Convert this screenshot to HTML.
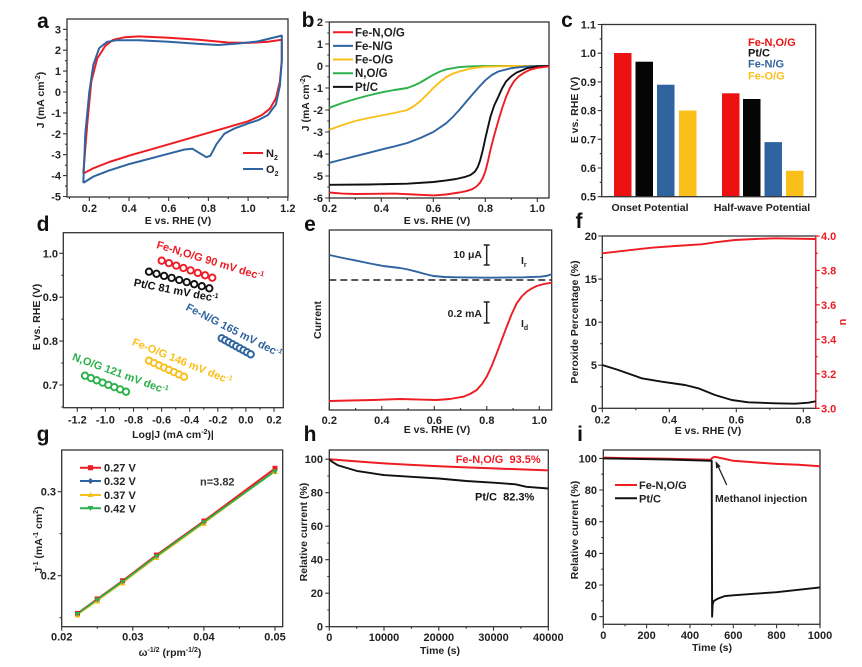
<!DOCTYPE html>
<html><head><meta charset="utf-8"><style>
html,body{margin:0;padding:0;background:#fff;}
svg{display:block;}
</style></head><body>
<svg width="862" height="667" viewBox="0 0 862 667" font-family="'Liberation Sans', Arial, sans-serif" font-weight="bold" fill="#222">
<!-- panel letters -->
<g font-size="21" text-anchor="middle" fill="#111">
<text x="43" y="28">a</text><text x="308" y="27">b</text><text x="567" y="27">c</text>
<text x="43" y="231">d</text><text x="310" y="231">e</text><text x="579" y="228">f</text>
<text x="43" y="441">g</text><text x="310" y="441">h</text><text x="580" y="441">i</text>
</g>

<!-- ================= PANEL A ================= -->
<rect x="67" y="19" width="221" height="178" fill="none" stroke="#333" stroke-width="1.3"/>
<path d="M63 29.3H67M63 50.2H67M63 71.1H67M63 92H67M63 112.9H67M63 133.8H67M63 154.7H67M63 175.6H67M63 196.5H67M65 39.75H67M65 60.65H67M65 81.55H67M65 102.45H67M65 123.35H67M65 144.25H67M65 165.15H67M65 186.05H67M89.3 197V201M129 197V201M168.7 197V201M208.4 197V201M248.1 197V201M287.8 197V201M69.5 197V199M109.2 197V199M148.9 197V199M188.6 197V199M228.3 197V199M268 197V199" stroke="#333" stroke-width="1.1"/>
<g font-size="11" text-anchor="end">
<text x="61" y="33.3">3</text><text x="61" y="54.2">2</text><text x="61" y="75.1">1</text><text x="61" y="96">0</text><text x="61" y="116.9">-1</text><text x="61" y="137.8">-2</text><text x="61" y="158.7">-3</text><text x="61" y="179.6">-4</text><text x="61" y="200.5">-5</text>
</g>
<g font-size="11" text-anchor="middle">
<text x="89.3" y="212">0.2</text><text x="129" y="212">0.4</text><text x="168.7" y="212">0.6</text><text x="208.4" y="212">0.8</text><text x="248.1" y="212">1.0</text><text x="287.8" y="212">1.2</text>
</g>
<text x="178" y="224" font-size="10.5" text-anchor="middle">E vs. RHE (V)</text>
<text transform="translate(44,100) rotate(-90)" font-size="10.5" text-anchor="middle">J (mA cm<tspan dy="-4" font-size="7">-2</tspan><tspan dy="4">)</tspan></text>
<polyline fill="none" stroke="#ee1c24" stroke-width="2" stroke-linejoin="round" points="83.3,173.5 87.3,123.4 91.3,81.5 97.2,58.6 105.2,46 113.1,39.8 125,37.2 138.9,36.4 168.7,37.7 198.5,39.8 228.3,42.5 248.1,42.9 268,41.8 281.8,39.8 281.8,60.7 279.9,81.5 275.9,98.3 269.9,108.7 262,115 248.1,121.3 208.4,132.8 168.7,144.3 129,155.7 109.2,162 93.3,168.3 83.3,173.5"/>
<polyline fill="none" stroke="#2f64a0" stroke-width="2" stroke-linejoin="round" points="83.3,182.9 85.3,133.8 89.3,92 93.3,64.8 99.2,48.1 107.2,41.8 117.1,40.2 138.9,40.2 168.7,41.8 198.5,43.9 218.3,45 238.2,43.5 258,41.4 281.8,35.6 281.8,60.7 279.9,85.7 275.9,104.5 268,115 258,120.2 248.1,123.4 234.2,128.6 224.3,133.8 216.4,144.3 210.4,155.7 206.4,157.2 200.5,153.7 192.5,148.8 184.6,149.5 168.7,153.7 129,164.1 109.2,170.4 93.3,176.6 83.3,182.9"/>
<line x1="243" y1="153" x2="263" y2="153" stroke="#ee1c24" stroke-width="2"/>
<line x1="243" y1="169" x2="263" y2="169" stroke="#2f64a0" stroke-width="2"/>
<text x="266" y="157" font-size="11">N<tspan dy="3" font-size="7">2</tspan></text>
<text x="266" y="173" font-size="11">O<tspan dy="3" font-size="7">2</tspan></text>

<!-- ================= PANEL B ================= -->
<rect x="329.3" y="22" width="219.7" height="176" fill="none" stroke="#333" stroke-width="1.3"/>
<path d="M325.3 22H329.3M325.3 44H329.3M325.3 66H329.3M325.3 88H329.3M325.3 110H329.3M325.3 132H329.3M325.3 154H329.3M325.3 176H329.3M325.3 198H329.3M327.3 33H329.3M327.3 55H329.3M327.3 77H329.3M327.3 99H329.3M327.3 121H329.3M327.3 143H329.3M327.3 165H329.3M327.3 187H329.3M329.3 198V202M381.3 198V202M433.3 198V202M485.3 198V202M537.3 198V202M355.3 198V200M407.3 198V200M459.3 198V200M511.3 198V200" stroke="#333" stroke-width="1.1"/>
<g font-size="11" text-anchor="end">
<text x="323" y="26">2</text><text x="323" y="48">1</text><text x="323" y="70">0</text><text x="323" y="92">-1</text><text x="323" y="114">-2</text><text x="323" y="136">-3</text><text x="323" y="158">-4</text><text x="323" y="180">-5</text><text x="323" y="202">-6</text>
</g>
<g font-size="11" text-anchor="middle">
<text x="329.3" y="212">0.2</text><text x="381.3" y="212">0.4</text><text x="433.3" y="212">0.6</text><text x="485.3" y="212">0.8</text><text x="537.3" y="212">1.0</text>
</g>
<text x="437" y="224" font-size="10.5" text-anchor="middle">E vs. RHE (V)</text>
<text transform="translate(309,103) rotate(-90)" font-size="10.5" text-anchor="middle">J (mA cm<tspan dy="-4" font-size="7">-2</tspan><tspan dy="4">)</tspan></text>
<g fill="none" stroke-width="1.9" stroke-linejoin="round">
<polyline stroke="#2bb14b" points="329.3,107.8 342.3,103 355.3,99 368.3,95.5 381.3,92.4 394.3,90 407.3,88 414,85.5 420.3,82.5 427,78.5 433.3,74.8 440,71.5 446.3,69.3 459.3,67.1 472,66.3 485.3,66 549,66"/>
<polyline stroke="#fbbf1a" points="329.3,129.8 342.3,125 355.3,121 368.3,118 381.3,115.5 394.3,113 407.3,110 414,106 420.3,101.2 427,94.5 433.3,88 440,82 446.3,77 452.5,73.8 459.3,71.5 472.3,68.2 485.3,66.7 511.3,66 549,66"/>
<polyline stroke="#2f64a0" points="329.3,162.8 342.3,159.5 355.3,156.2 368.3,152.9 381.3,149.6 394.3,146.4 407.3,143 420.3,138 433.3,132 446.3,123.2 452.8,117 459.3,110 466,102 472.3,94.6 479,87 485.3,80.3 491.8,75 498.3,71.5 511.3,68.2 524.3,66.7 537.3,66 549,66"/>
<polyline stroke="#111" points="329.3,184.8 368.3,184.5 407.3,183.7 433.3,182 446.3,180.4 456,179 464.5,177.1 470.5,175 474.9,171.6 477.8,167 480.1,160.6 482.8,150 485.3,138.6 488,127 490.5,116.6 494.2,105.5 498.3,96.8 502,88.5 506.1,81.4 511,76.5 516.5,72.6 526.9,68.2 537.3,66.4 549,66"/>
<polyline stroke="#ee1c24" points="329.3,192.5 342,193.6 355.3,194 375,193.8 394.3,193.6 414,194.5 433.3,195.4 446,194.5 459.3,192.5 466,191.2 472.3,189.2 476.5,186.5 480.1,182.6 482.8,178 485.3,171.6 488,161 490.5,149.6 494.3,135 498.3,121 502.2,108 506.1,96.8 510,88 513.9,81.4 518.5,76.5 524.3,72.6 530,69.8 537.3,67.8 549,66.4"/>
</g>
<g stroke-width="2">
<line x1="333" y1="32.3" x2="353" y2="32.3" stroke="#ee1c24"/>
<line x1="333" y1="45.9" x2="353" y2="45.9" stroke="#2f64a0"/>
<line x1="333" y1="59.5" x2="353" y2="59.5" stroke="#fbbf1a"/>
<line x1="333" y1="73.2" x2="353" y2="73.2" stroke="#2bb14b"/>
<line x1="333" y1="86.9" x2="353" y2="86.9" stroke="#111"/>
</g>
<g font-size="11.5">
<text x="355" y="36.3">Fe-N,O/G</text><text x="355" y="49.9">Fe-N/G</text><text x="355" y="63.5">Fe-O/G</text><text x="355" y="77.2">N,O/G</text><text x="355" y="90.9">Pt/C</text>
</g>

<!-- ================= PANEL C ================= -->
<g>
<rect x="614" y="53" width="17.5" height="143.7" fill="#ee1111"/>
<rect x="635.5" y="61.7" width="17.5" height="135" fill="#050505"/>
<rect x="657" y="84.7" width="17.5" height="112" fill="#2f64a0"/>
<rect x="679" y="110.5" width="17.5" height="86.2" fill="#fbbf1a"/>
<rect x="722" y="93.3" width="17.5" height="103.4" fill="#ee1111"/>
<rect x="743" y="99" width="17.5" height="97.7" fill="#050505"/>
<rect x="764.5" y="142.1" width="17.5" height="54.6" fill="#2f64a0"/>
<rect x="786" y="170.8" width="17.5" height="25.9" fill="#fbbf1a"/>
</g>
<rect x="601.7" y="24.5" width="214" height="172.2" fill="none" stroke="#333" stroke-width="1.3"/>
<path d="M597.7 196.7H601.7M597.7 168H601.7M597.7 139.3H601.7M597.7 110.6H601.7M597.7 81.9H601.7M597.7 53.2H601.7M597.7 24.5H601.7M599.7 182.3H601.7M599.7 153.7H601.7M599.7 125H601.7M599.7 96.3H601.7M599.7 67.5H601.7M599.7 38.9H601.7" stroke="#333" stroke-width="1.1"/>
<g font-size="11" text-anchor="end">
<text x="596" y="28.5">1.1</text><text x="596" y="57.2">1.0</text><text x="596" y="85.9">0.9</text><text x="596" y="114.6">0.8</text><text x="596" y="143.3">0.7</text><text x="596" y="172">0.6</text><text x="596" y="200.7">0.5</text>
</g>
<g font-size="10.5" text-anchor="middle">
<text x="650" y="211">Onset Potential</text><text x="762" y="211">Half-wave Potential</text>
</g>
<text transform="translate(578,110) rotate(-90)" font-size="10.5" text-anchor="middle">E vs. RHE (V)</text>
<g font-size="11">
<text x="748" y="46" fill="#ee1111">Fe-N,O/G</text>
<text x="748" y="56.7" fill="#111">Pt/C</text>
<text x="748" y="67.3" fill="#2f64a0">Fe-N/G</text>
<text x="748" y="79.7" fill="#fbbf1a">Fe-O/G</text>
</g>

<!-- ================= PANEL D ================= -->
<rect x="63.3" y="232.7" width="220" height="175" fill="none" stroke="#333" stroke-width="1.3"/>
<path d="M59.3 253.3H63.3M59.3 297.2H63.3M59.3 341.1H63.3M59.3 385H63.3M61.3 275.3H63.3M61.3 319.2H63.3M61.3 363.1H63.3M61.3 407H63.3M77.3 407.7V411.7M105.4 407.7V411.7M133.5 407.7V411.7M161.6 407.7V411.7M189.7 407.7V411.7M217.8 407.7V411.7M245.9 407.7V411.7M274 407.7V411.7M91.4 407.7V409.7M119.5 407.7V409.7M147.6 407.7V409.7M175.7 407.7V409.7M203.8 407.7V409.7M231.9 407.7V409.7M260 407.7V409.7" stroke="#333" stroke-width="1.1"/>
<g font-size="11" text-anchor="end">
<text x="58" y="257.3">1.0</text><text x="58" y="301.2">0.9</text><text x="58" y="345.1">0.8</text><text x="58" y="389">0.7</text>
</g>
<g font-size="11" text-anchor="middle">
<text x="77.3" y="423.5">-1.2</text><text x="105.4" y="423.5">-1.0</text><text x="133.5" y="423.5">-0.8</text><text x="161.6" y="423.5">-0.6</text><text x="189.7" y="423.5">-0.4</text><text x="217.8" y="423.5">-0.2</text><text x="245.9" y="423.5">0.0</text><text x="274" y="423.5">0.2</text>
</g>
<text x="173" y="438" font-size="10.5" text-anchor="middle">Log|J (mA cm<tspan dy="-4" font-size="7">-2</tspan><tspan dy="4">)|</tspan></text>
<text transform="translate(40,317) rotate(-90)" font-size="10.5" text-anchor="middle">E vs. RHE (V)</text>
<g fill="#fff" stroke-width="1.9">
<g stroke="#ee1c24"><circle cx="161.7" cy="260.7" r="3.2"/><circle cx="168.9" cy="263.1" r="3.2"/><circle cx="176.2" cy="265.6" r="3.2"/><circle cx="183.4" cy="268" r="3.2"/><circle cx="190.6" cy="270.4" r="3.2"/><circle cx="197.8" cy="272.9" r="3.2"/><circle cx="205.1" cy="275.3" r="3.2"/><circle cx="212.3" cy="277.7" r="3.2"/></g>
<g stroke="#111"><circle cx="149" cy="271.7" r="3.2"/><circle cx="156.5" cy="273.8" r="3.2"/><circle cx="164.1" cy="275.9" r="3.2"/><circle cx="171.6" cy="277.9" r="3.2"/><circle cx="179.2" cy="280" r="3.2"/><circle cx="186.7" cy="282.1" r="3.2"/><circle cx="194.2" cy="284.2" r="3.2"/><circle cx="201.8" cy="286.2" r="3.2"/><circle cx="209.3" cy="288.3" r="3.2"/></g>
<g stroke="#2f64a0"><circle cx="221.7" cy="338.3" r="3.2"/><circle cx="225.3" cy="340.3" r="3.2"/><circle cx="228.9" cy="342.3" r="3.2"/><circle cx="232.6" cy="344.3" r="3.2"/><circle cx="236.2" cy="346.3" r="3.2"/><circle cx="239.8" cy="348.3" r="3.2"/><circle cx="243.5" cy="350.3" r="3.2"/><circle cx="247.1" cy="352.3" r="3.2"/><circle cx="250.7" cy="354.3" r="3.2"/></g>
<g stroke="#fbbf1a"><circle cx="149" cy="360.7" r="3.2"/><circle cx="154" cy="363" r="3.2"/><circle cx="159" cy="365.3" r="3.2"/><circle cx="164" cy="367.6" r="3.2"/><circle cx="169" cy="369.9" r="3.2"/><circle cx="174" cy="372.1" r="3.2"/><circle cx="179" cy="374.4" r="3.2"/><circle cx="184" cy="376.7" r="3.2"/></g>
<g stroke="#2bb14b"><circle cx="85" cy="375.7" r="3.2"/><circle cx="90.9" cy="378" r="3.2"/><circle cx="96.7" cy="380.3" r="3.2"/><circle cx="102.6" cy="382.6" r="3.2"/><circle cx="108.4" cy="384.9" r="3.2"/><circle cx="114.3" cy="387.1" r="3.2"/><circle cx="120.1" cy="389.4" r="3.2"/><circle cx="126" cy="391.7" r="3.2"/></g>
</g>
<g font-size="11">
<text transform="translate(157,244) rotate(17)" y="4" fill="#ee1c24">Fe-N,O/G 90 mV dec<tspan dy="-4" font-size="7">-1</tspan></text>
<text transform="translate(134,282) rotate(11)" y="4" fill="#111">Pt/C 81 mV dec<tspan dy="-4" font-size="7">-1</tspan></text>
<text transform="translate(187,306) rotate(27)" y="4" fill="#2f64a0">Fe-N/G 165 mV dec<tspan dy="-4" font-size="7">-1</tspan></text>
<text transform="translate(133,341) rotate(22)" y="4" fill="#fbbf1a">Fe-O/G 146 mV dec<tspan dy="-4" font-size="7">-1</tspan></text>
<text transform="translate(73,356) rotate(20)" y="4" fill="#2bb14b">N,O/G 121 mV dec<tspan dy="-4" font-size="7">-1</tspan></text>
</g>

<!-- ================= PANEL E ================= -->
<rect x="329.3" y="230" width="222.4" height="180" fill="none" stroke="#333" stroke-width="1.3"/>
<path d="M329.3 410V406M381.8 410V406M434.3 410V406M486.8 410V406M539.3 410V406M355.6 410V408M408.1 410V408M460.6 410V408M513.1 410V408" stroke="#333" stroke-width="1.1"/>
<g font-size="11" text-anchor="middle">
<text x="329.3" y="424">0.2</text><text x="381.8" y="424">0.4</text><text x="434.3" y="424">0.6</text><text x="486.8" y="424">0.8</text><text x="539.3" y="424">1.0</text>
</g>
<text x="437" y="433" font-size="10.5" text-anchor="middle">E vs. RHE (V)</text>
<text transform="translate(321,320) rotate(-90)" font-size="10.5" text-anchor="middle">Current</text>
<line x1="329.3" y1="280" x2="551.7" y2="280" stroke="#222" stroke-width="1.6" stroke-dasharray="7,4"/>
<polyline fill="none" stroke="#2f64a0" stroke-width="1.9" stroke-linejoin="round" points="329.3,255 343,258 356.7,260.7 370,263.5 383.3,266 400,268 408,269.5 416.7,271.7 425,274 433.3,276 445,277 456.7,277.3 490,277.7 523.3,277.3 540,276.7 546,276 551.7,274.3"/>
<polyline fill="none" stroke="#ee1c24" stroke-width="1.9" stroke-linejoin="round" points="329.3,401 350,400.5 373.3,400 400,399 420,399.6 436.7,400 450,399 463.3,396.7 470,394 476.7,390 482,384 486.7,376.7 491.7,366 496.7,353.3 501.7,340 506.7,326.7 511.7,314 516.7,303.3 521.7,296.5 526.7,291.7 531.7,288.5 536.7,286 544,284 551.7,282.7"/>
<path d="M486.7 245V265M483.7 245H489.7M483.7 265H489.7M486.7 302V323M483.7 302H489.7M483.7 323H489.7" stroke="#222" stroke-width="1.5"/>
<g font-size="10.5">
<text x="482" y="258" text-anchor="end">10 μA</text>
<text x="482" y="317" text-anchor="end">0.2 mA</text>
<text x="521" y="264">I<tspan dy="3" font-size="7">r</tspan></text>
<text x="521" y="327">I<tspan dy="3" font-size="7">d</tspan></text>
</g>

<!-- ================= PANEL F ================= -->
<rect x="602.3" y="236" width="213.4" height="172.3" fill="none" stroke="#333" stroke-width="1.3"/>
<path d="M598.3 408.3H602.3M598.3 365.2H602.3M598.3 322.2H602.3M598.3 279.1H602.3M598.3 236H602.3M600.3 386.8H602.3M600.3 343.7H602.3M600.3 300.6H602.3M600.3 257.5H602.3M602.3 408.3V412.3M669.3 408.3V412.3M736.3 408.3V412.3M803.3 408.3V412.3M635.8 408.3V410.3M702.8 408.3V410.3M769.8 408.3V410.3" stroke="#333" stroke-width="1.1"/>
<path d="M815.7 236V408.3M815.7 408.3H819.7M815.7 373.8H819.7M815.7 339.4H819.7M815.7 304.9H819.7M815.7 270.5H819.7M815.7 236H819.7M815.7 391H817.7M815.7 356.6H817.7M815.7 322.2H817.7M815.7 287.7H817.7M815.7 253.3H817.7" stroke="#ee1c24" stroke-width="1.3"/>
<g font-size="11" text-anchor="end">
<text x="597" y="412.3">0</text><text x="597" y="369.2">5</text><text x="597" y="326.2">10</text><text x="597" y="283.1">15</text><text x="597" y="240">20</text>
</g>
<g font-size="11" fill="#ee1c24">
<text x="821" y="412.3">3.0</text><text x="821" y="377.8">3.2</text><text x="821" y="343.4">3.4</text><text x="821" y="308.9">3.6</text><text x="821" y="274.5">3.8</text><text x="821" y="240">4.0</text>
</g>
<g font-size="11" text-anchor="middle">
<text x="602.3" y="423.5">0.2</text><text x="669.3" y="423.5">0.4</text><text x="736.3" y="423.5">0.6</text><text x="803.3" y="423.5">0.8</text>
</g>
<text x="708" y="434" font-size="10.5" text-anchor="middle">E vs. RHE (V)</text>
<text transform="translate(578,322) rotate(-90)" font-size="10.5" text-anchor="middle">Peroxide Percentage (%)</text>
<text transform="translate(846,322) rotate(-90)" font-size="11" text-anchor="middle" fill="#ee1c24">n</text>
<polyline fill="none" stroke="#ee1c24" stroke-width="1.9" stroke-linejoin="round" points="602.3,253.3 625,250.7 651.7,247.7 675,246 701.7,244.3 715,242.3 735,240 755,239 775,238.3 815.7,239"/>
<polyline fill="none" stroke="#111" stroke-width="1.9" stroke-linejoin="round" points="602.3,365 618.3,370 641.7,378.3 661.7,381.7 685,385 698.3,388.3 715,395 731.7,400 748.3,402.3 775,403.3 795,403.7 808.3,402.7 815.7,401.3"/>

<!-- ================= PANEL G ================= -->
<rect x="61.7" y="450" width="221" height="176.7" fill="none" stroke="#333" stroke-width="1.3"/>
<path d="M57.7 575.7H61.7M57.7 491.7H61.7M59.7 617.7H61.7M59.7 533.7H61.7M61.7 626.7V630.7M132.8 626.7V630.7M203.9 626.7V630.7M275 626.7V630.7M97.3 626.7V628.7M168.4 626.7V628.7M239.5 626.7V628.7" stroke="#333" stroke-width="1.1"/>
<g font-size="11" text-anchor="end">
<text x="56" y="495.7">0.3</text><text x="56" y="579.7">0.2</text>
</g>
<g font-size="11" text-anchor="middle">
<text x="61.7" y="640.5">0.02</text><text x="132.8" y="640.5">0.03</text><text x="203.9" y="640.5">0.04</text><text x="275" y="640.5">0.05</text>
</g>
<text x="170" y="656" font-size="10.5" text-anchor="middle">ω<tspan dy="-4" font-size="7">-1/2</tspan><tspan dy="4"> (rpm</tspan><tspan dy="-4" font-size="7">-1/2</tspan><tspan dy="4">)</tspan></text>
<text transform="translate(42,540) rotate(-90)" font-size="10.5" text-anchor="middle">J<tspan dy="-4" font-size="7">-1</tspan><tspan dy="4"> (mA</tspan><tspan dy="-4" font-size="7">-1</tspan><tspan dy="4"> cm</tspan><tspan dy="-4" font-size="7">2</tspan><tspan dy="4">)</tspan></text>
<polyline fill="none" stroke="#2f64a0" stroke-width="1.6" points="77.5,613.5 97.25,599.2 122.6,581 156.5,555.5 203.9,521.5 275,469.5"/>
<polyline fill="none" stroke="#fbbf1a" stroke-width="1.8" points="77.5,614.5 97.25,600.5 122.6,582.5 156.5,557 203.9,523 275,470.8"/>
<polyline fill="none" stroke="#ee1c24" stroke-width="1.8" points="77.5,613.3 97.25,599 122.6,580.7 156.5,555 203.9,521 275,468.3"/>
<polyline fill="none" stroke="#2bb14b" stroke-width="1.8" points="77.5,613.8 97.25,599.5 122.6,581.5 156.5,556 203.9,522 275,471.3"/>
<g fill="#ee1c24"><rect x="75" y="611" width="5" height="5"/><rect x="94.7" y="596.5" width="5" height="5"/><rect x="120.1" y="578.2" width="5" height="5"/><rect x="154" y="552.5" width="5" height="5"/><rect x="201.4" y="518.5" width="5" height="5"/><rect x="272.5" y="465.8" width="5" height="5"/></g>
<g fill="#fbbf1a"><path d="M77.5 612.5l3 5h-6zM97.25 598.5l3 5h-6zM122.6 580.5l3 5h-6zM156.5 555l3 5h-6zM203.9 521l3 5h-6zM275 469l3 5h-6z"/></g>
<g fill="#2bb14b"><path d="M74.5 612h6l-3 5zM94.25 597.7h6l-3 5zM119.6 579.7h6l-3 5zM153.5 554.2h6l-3 5zM200.9 520.2h6l-3 5zM272 469.5h6l-3 5z"/></g>
<g stroke-width="2">
<line x1="80" y1="467.7" x2="101" y2="467.7" stroke="#ee1c24"/><rect x="88" y="465.2" width="5" height="5" fill="#ee1c24"/>
<line x1="80" y1="481" x2="101" y2="481" stroke="#2f64a0"/><path d="M90.5 478l3 3-3 3-3-3z" fill="#2f64a0"/>
<line x1="80" y1="495" x2="101" y2="495" stroke="#fbbf1a"/><path d="M90.5 492l3 5h-6z" fill="#fbbf1a"/>
<line x1="80" y1="508.3" x2="101" y2="508.3" stroke="#2bb14b"/><path d="M87.5 506h6l-3 5z" fill="#2bb14b"/>
</g>
<g font-size="11">
<text x="104" y="471.7">0.27 V</text><text x="104" y="485">0.32 V</text><text x="104" y="499">0.37 V</text><text x="104" y="512.3">0.42 V</text>
<text x="200" y="485.7" fill="#333">n=3.82</text>
</g>

<!-- ================= PANEL H ================= -->
<rect x="329.3" y="450" width="219" height="176.7" fill="none" stroke="#333" stroke-width="1.3"/>
<path d="M325.3 626.7H329.3M325.3 593.2H329.3M325.3 559.7H329.3M325.3 526.2H329.3M325.3 492.7H329.3M325.3 459.2H329.3M327.3 610H329.3M327.3 576.5H329.3M327.3 543H329.3M327.3 509.5H329.3M327.3 476H329.3M329.3 626.7V630.7M384 626.7V630.7M438.8 626.7V630.7M493.5 626.7V630.7M548.3 626.7V630.7M356.7 626.7V628.7M411.4 626.7V628.7M466.2 626.7V628.7M520.9 626.7V628.7" stroke="#333" stroke-width="1.1"/>
<g font-size="11" text-anchor="end">
<text x="323" y="630.7">0</text><text x="323" y="597.2">20</text><text x="323" y="563.7">40</text><text x="323" y="530.2">60</text><text x="323" y="496.7">80</text><text x="323" y="463.2">100</text>
</g>
<g font-size="11" text-anchor="middle">
<text x="329.3" y="641">0</text><text x="384" y="641">10000</text><text x="438.8" y="641">20000</text><text x="493.5" y="641">30000</text><text x="548.3" y="641">40000</text>
</g>
<text x="440" y="654" font-size="10.5" text-anchor="middle">Time (s)</text>
<text transform="translate(307,532) rotate(-90)" font-size="10.5" text-anchor="middle">Relative current (%)</text>
<polyline fill="none" stroke="#ee1c24" stroke-width="2" points="329.3,459.2 356.7,461.4 384,463.4 411.4,464.9 438.8,466.3 466.2,467.4 493.5,468.4 520.9,469.4 548.3,470.4"/>
<polyline fill="none" stroke="#111" stroke-width="1.9" stroke-linejoin="round" points="329.3,459.2 332,461.7 337.5,465.1 345.7,467.6 356.7,470.9 367.6,472.6 384,475.1 411.4,476.8 438.8,478.5 466.2,481 493.5,482.7 515.5,484.3 526.4,486.8 548.3,488.5"/>
<text x="455.7" y="463" font-size="11" fill="#ee1c24" xml:space="preserve">Fe-N,O/G  93.5%</text>
<text x="475" y="500.7" font-size="11" fill="#111" xml:space="preserve">Pt/C  82.3%</text>

<!-- ================= PANEL I ================= -->
<rect x="603.3" y="450" width="216.7" height="174.3" fill="none" stroke="#333" stroke-width="1.3"/>
<path d="M599.3 616.7H603.3M599.3 585H603.3M599.3 553.4H603.3M599.3 521.7H603.3M599.3 490H603.3M599.3 458.4H603.3M601.3 600.9H603.3M601.3 569.2H603.3M601.3 537.6H603.3M601.3 505.9H603.3M601.3 474.2H603.3M603.3 624.3V628.3M646.6 624.3V628.3M690 624.3V628.3M733.3 624.3V628.3M776.6 624.3V628.3M820 624.3V628.3M625 624.3V626.3M668.3 624.3V626.3M711.7 624.3V626.3M755 624.3V626.3M798.3 624.3V626.3" stroke="#333" stroke-width="1.1"/>
<g font-size="11" text-anchor="end">
<text x="597" y="620.7">0</text><text x="597" y="589">20</text><text x="597" y="557.4">40</text><text x="597" y="525.7">60</text><text x="597" y="494">80</text><text x="597" y="462.4">100</text>
</g>
<g font-size="11" text-anchor="middle">
<text x="603.3" y="639">0</text><text x="646.6" y="639">200</text><text x="690" y="639">400</text><text x="733.3" y="639">600</text><text x="776.6" y="639">800</text><text x="820" y="639">1000</text>
</g>
<text x="712" y="651" font-size="10.5" text-anchor="middle">Time (s)</text>
<text transform="translate(578,530) rotate(-90)" font-size="10.5" text-anchor="middle">Relative current (%)</text>
<polyline fill="none" stroke="#ee1c24" stroke-width="2" stroke-linejoin="round" points="603.3,457.6 625,458.1 646.6,458.4 668.3,458.7 690,459.2 710.6,459.7 712.7,457.6 714.9,456.8 722.5,458.4 733.3,460.8 755,462.4 776.6,463.9 798.3,464.7 820,466.3"/>
<polyline fill="none" stroke="#111" stroke-width="1.9" stroke-linejoin="round" points="603.3,458.4 668.3,459.5 710.6,460.8 711.7,460.8 712.1,616.7 712.7,604 713.8,600.9 718.2,598.5 724.7,596.1 733.3,595.3 755,593.7 776.6,592.2 798.3,589.8 820,587.4"/>
<line x1="615" y1="485" x2="637" y2="485" stroke="#ee1c24" stroke-width="2"/>
<line x1="615" y1="498.3" x2="637" y2="498.3" stroke="#111" stroke-width="2"/>
<g font-size="11">
<text x="639" y="489">Fe-N,O/G</text><text x="639" y="502.3">Pt/C</text>
</g>
<text x="715" y="502" font-size="10.5">Methanol injection</text>
<line x1="726.7" y1="485" x2="718" y2="466" stroke="#222" stroke-width="1.3"/>
<path d="M715.5 461l5.2 5.4-4.6 2.1z" fill="#222"/>
</svg>
</body></html>
